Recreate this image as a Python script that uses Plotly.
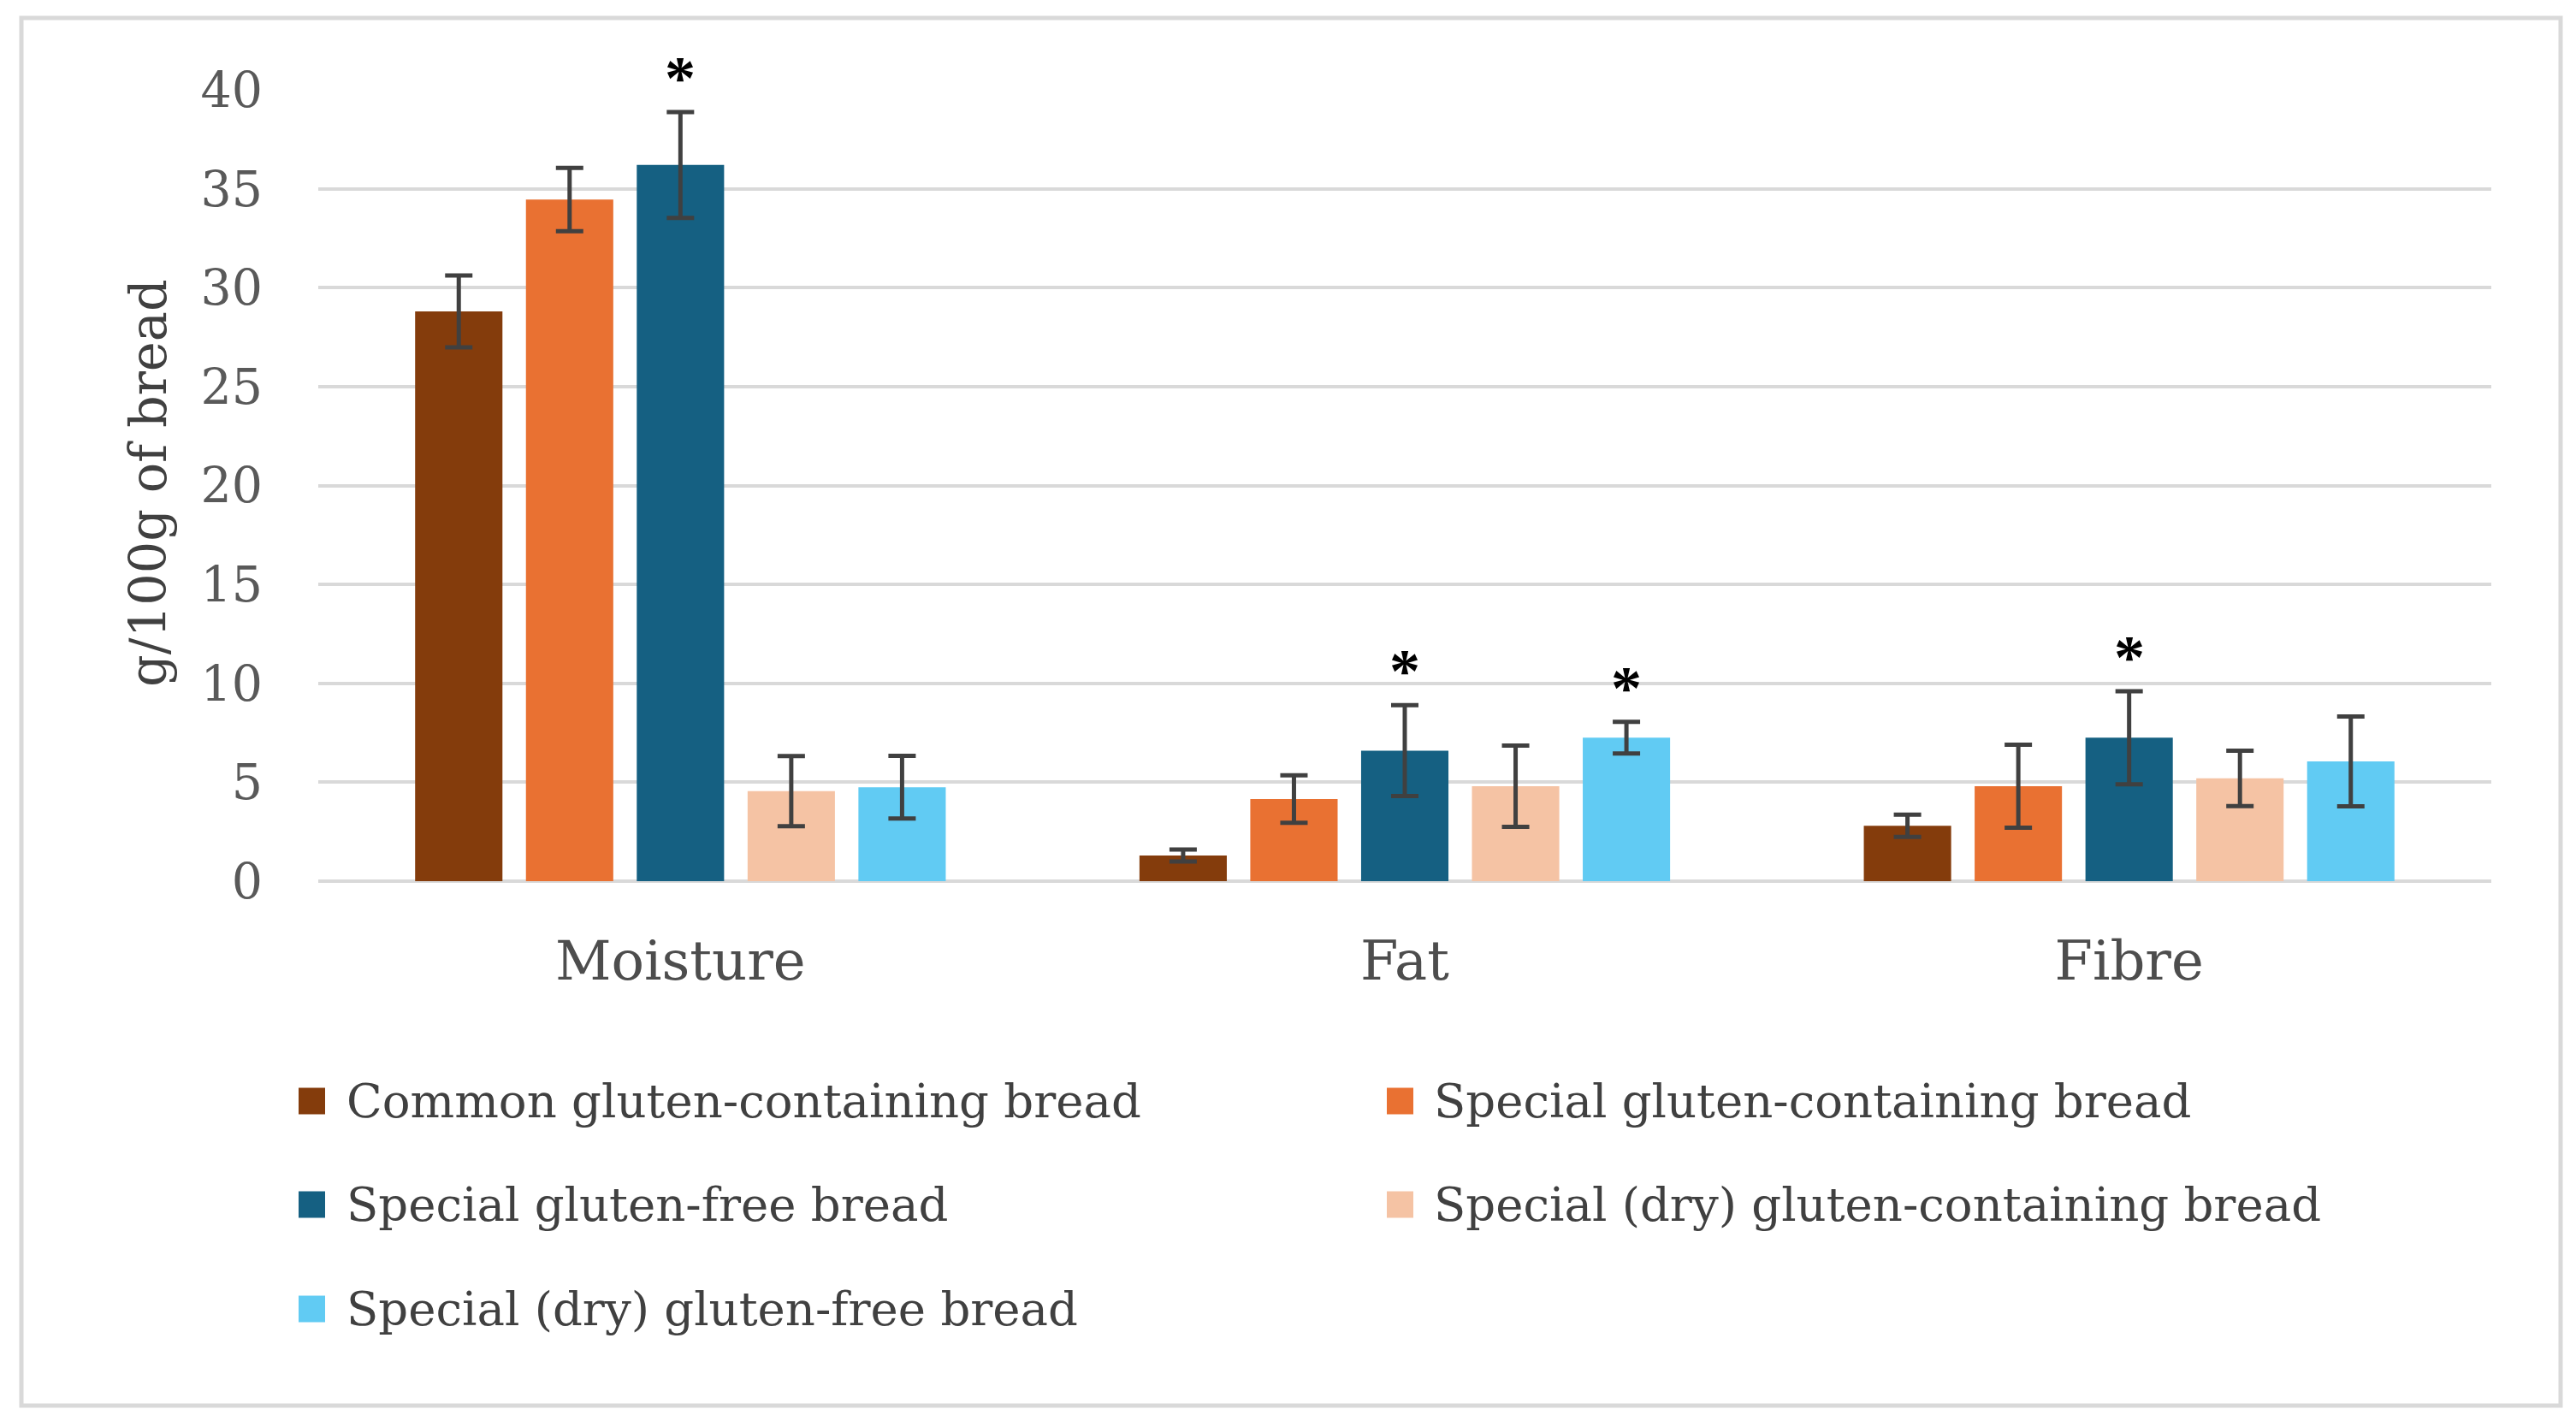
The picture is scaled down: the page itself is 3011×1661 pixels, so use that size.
import plotly.graph_objects as go

# ---------------- data ----------------
categories = ["Moisture", "Fat", "Fibre"]
series_names = [
    "Common gluten-containing bread",
    "Special gluten-containing bread",
    "Special gluten-free bread",
    "Special (dry) gluten-containing bread",
    "Special (dry) gluten-free bread",
]
# values per series, in the order of categories
means = [
    [28.8, 1.3, 2.8],
    [34.45, 4.15, 4.8],
    [36.2, 6.6, 7.25],
    [4.55, 4.8, 5.2],
    [4.75, 7.25, 6.05],
]
sds = [
    [1.82, 0.3, 0.56],
    [1.6, 1.2, 2.1],
    [2.68, 2.3, 2.35],
    [1.77, 2.05, 1.4],
    [1.58, 0.8, 2.27],
]
# significance markers: (series index, category index)
significant = [(2, 0), (2, 1), (4, 1), (2, 2)]
y_ticks = [0, 5, 10, 15, 20, 25, 30, 35, 40]

colors = ["#843C0C", "#E97132", "#156082", "#F5C3A4", "#61CBF3"]

# ---------------- layout geometry ----------------
W, H = 3011, 1661
L, R, T, B = 372, 99, 105, 631
PW, PH = W - L - R, H - T - B


def px2x(px):
    return (px - L) / PW


def px2y(py):
    return (H - B - py) / PH


BARGAP = 0.235
BARGROUPGAP = 0.212
n = len(series_names)
slot = (1 - BARGAP) / n

SERIF = "DejaVu Serif"

fig = go.Figure()
for i, name in enumerate(series_names):
    fig.add_trace(go.Bar(
        x=list(range(len(categories))),
        y=means[i],
        name=name,
        marker=dict(color=colors[i], line=dict(width=0)),
        error_y=dict(type="data", array=sds[i], visible=True,
                     color="#404040", thickness=5, width=16),
        showlegend=False,
    ))

annotations = []
for si, ci in significant:
    xc = ci - (1 - BARGAP) / 2 + slot * (si + 0.5)
    annotations.append(dict(
        x=xc, y=means[si][ci] + sds[si][ci], xref="x", yref="y",
        text="<b>*</b>", showarrow=False, yanchor="bottom", xanchor="center",
        yshift=-2,
        font=dict(family="Liberation Serif", size=72, color="#000000"),
    ))

# y axis title
annotations.append(dict(
    x=px2x(173), y=px2y(565), xref="paper", yref="paper",
    text="g/100g of bread", textangle=-90, showarrow=False,
    xanchor="center", yanchor="middle",
    font=dict(family=SERIF, size=59, color="#404040"),
))

# manual legend (2 columns)
shapes = []
col_sw_x = [349, 1621]
col_tx_x = [403, 1674]
row_y = [1287, 1408, 1530]
SW = 31
for i, name in enumerate(series_names):
    r, c = divmod(i, 2)
    x0 = col_sw_x[c]
    yc = row_y[r]
    shapes.append(dict(
        type="rect", xref="paper", yref="paper",
        x0=px2x(x0), x1=px2x(x0 + SW),
        y0=px2y(yc + SW / 2), y1=px2y(yc - SW / 2),
        fillcolor=colors[i], line=dict(width=0),
    ))
    annotations.append(dict(
        x=px2x(col_tx_x[c]), y=px2y(yc), xref="paper", yref="paper",
        text=name, showarrow=False, xanchor="left", yanchor="middle",
        font=dict(family=SERIF, size=54.5, color="#404040"),
    ))

# outer frame
shapes.append(dict(
    type="rect", xref="paper", yref="paper",
    x0=px2x(25), x1=px2x(2993), y0=px2y(1643), y1=px2y(21),
    line=dict(color="#D9D9D9", width=5), fillcolor="rgba(0,0,0,0)",
    layer="below",
))

fig.update_layout(
    width=W, height=H,
    margin=dict(l=L, r=R, t=T, b=B, pad=0),
    paper_bgcolor="white", plot_bgcolor="white",
    barmode="group", bargap=BARGAP, bargroupgap=BARGROUPGAP,
    showlegend=False,
    annotations=annotations,
    shapes=shapes,
    xaxis=dict(
        range=[-0.5, len(categories) - 0.5],
        tickmode="array", tickvals=list(range(len(categories))),
        ticktext=categories,
        showgrid=False, zeroline=False, showline=False, ticks="",
        tickfont=dict(family=SERIF, size=64, color="#4D4D4D"),
        ticklabelstandoff=50,
    ),
    yaxis=dict(
        range=[0, 40], tickmode="array", tickvals=y_ticks,
        showgrid=True, gridcolor="#D9D9D9", gridwidth=4,
        zeroline=True, zerolinecolor="#D9D9D9", zerolinewidth=4,
        showline=False, ticks="",
        tickfont=dict(family=SERIF, size=57, color="#595959"),
        ticklabelstandoff=64,
    ),
)

fig.write_html(
    "out.html",
    config={"displayModeBar": False},
    post_script="document.body.style.margin='0';document.body.style.overflow='hidden';",
)
